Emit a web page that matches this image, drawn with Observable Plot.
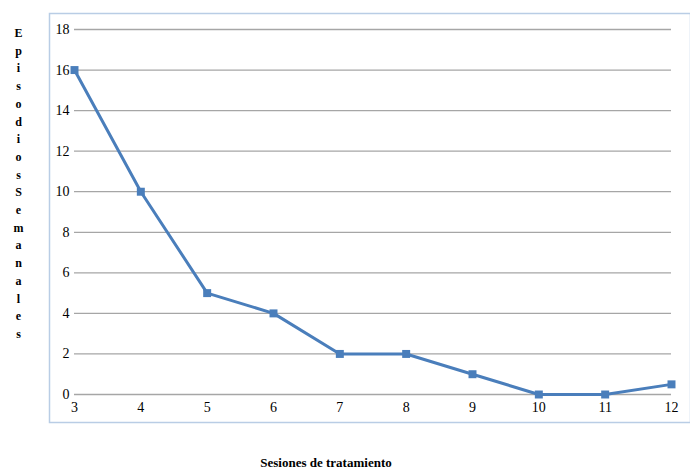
<!DOCTYPE html>
<html>
<head>
<meta charset="utf-8">
<script src="https://cdn.jsdelivr.net/npm/d3@7"></script>
<script src="https://cdn.jsdelivr.net/npm/@observablehq/plot@0.6"></script>
<style>
  body { margin: 0; background: #fff; }
  svg { display: block; }
  svg text, svg g { font-family: "Liberation Serif", "DejaVu Serif", serif !important; }
</style>
</head>
<body>
<div id="chart"></div>
<script>
const sessions = [3, 4, 5, 6, 7, 8, 9, 10, 11, 12];
const episodes = [16, 10, 5, 4, 2, 2, 1, 0, 0, 0.5];
const yTicks = [0, 2, 4, 6, 8, 10, 12, 14, 16, 18];
const xTicks = [3, 4, 5, 6, 7, 8, 9, 10, 11, 12];
const yLabel = "EpisodiosSemanales";
const xLabel = "Sesiones de tratamiento";

const data = sessions.map((s, i) => ({session: s, value: episodes[i]}));
const blue = "#4a7ebb";
const serif = '"Liberation Serif", serif';

const chart = Plot.plot({
  width: 690,
  height: 468,
  marginLeft: 74,
  marginRight: 19,
  marginTop: 29,
  marginBottom: 74,
  style: {fontFamily: serif, fontSize: "14px", background: "#fff", color: "#000"},
  x: {domain: [3, 12], ticks: xTicks, tickSize: 0, tickPadding: 8, label: null},
  y: {domain: [0, 18], ticks: yTicks, tickSize: 0, tickPadding: 5, label: null},
  marks: [
    Plot.frame({stroke: "#b9cde5", strokeWidth: 1.5, insetLeft: -25, insetRight: -19, insetTop: -16, insetBottom: -28, fill: "none"}),
    Plot.gridY(yTicks, {stroke: "#a6a6a6", strokeOpacity: 1, strokeWidth: 1.3}),
    Plot.axisY({ticks: yTicks, tickSize: 0, tickPadding: 5, fontSize: 14, fontFamily: serif}),
    Plot.axisX({ticks: xTicks, tickSize: 0, tickPadding: 8, fontSize: 14, fontFamily: serif}),
    Plot.line(data, {x: "session", y: "value", stroke: blue, strokeWidth: 3}),
    Plot.dot(data, {x: "session", y: "value", symbol: "square", r: 4.5, fill: blue, stroke: "none"}),
    Plot.text([yLabel.split("").join("\n")], {
      frameAnchor: "top-left", dx: -56, dy: -5, lineAnchor: "top", textAnchor: "middle",
      lineHeight: 1.475, fontSize: 12, fontWeight: "bold", fill: "#000", fontFamily: serif
    }),
    Plot.text([xLabel], {
      frameAnchor: "bottom", dx: -47, dy: 72, lineAnchor: "bottom", textAnchor: "middle",
      fontSize: 13, fontWeight: "bold", fill: "#000", fontFamily: serif
    })
  ]
});
document.getElementById("chart").appendChild(chart);
</script>
</body>
</html>
